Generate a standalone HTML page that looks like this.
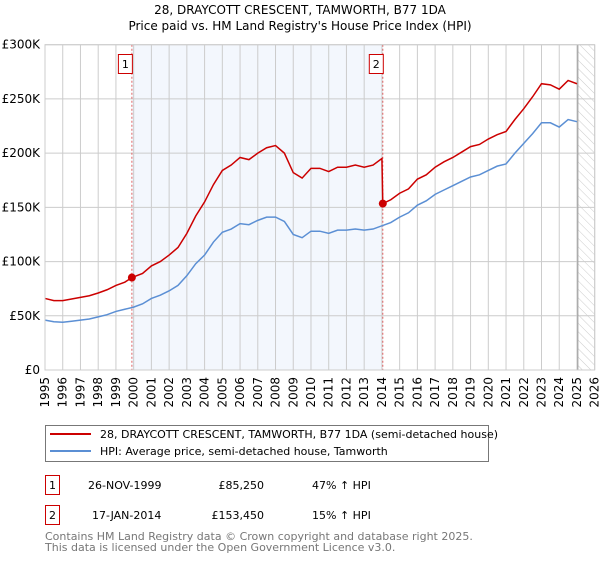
<!DOCTYPE html>
<html><head><meta charset="utf-8"><style>
body{margin:0;background:#fff;width:600px;height:560px;overflow:hidden;font-family:"DejaVu Sans","Liberation Sans",sans-serif}
svg text{font-family:"DejaVu Sans","Liberation Sans",sans-serif}
</style></head><body>
<svg id="c" width="600" height="560" xmlns="http://www.w3.org/2000/svg">
<defs><pattern id="hatch" width="6" height="6" patternUnits="userSpaceOnUse" patternTransform="rotate(-45)"><line x1="0" y1="0" x2="0" y2="6" stroke="#ccc" stroke-width="1"/></pattern></defs>
<text x="300" y="14" text-anchor="middle" font-size="12">28, DRAYCOTT CRESCENT, TAMWORTH, B77 1DA</text>
<text x="300" y="30" text-anchor="middle" font-size="12">Price paid vs. HM Land Registry's House Price Index (HPI)</text>
<g id="plot"></g>
<g>
<rect x="45.5" y="425.5" width="443" height="36" fill="#fff" stroke="#777"/>
<line x1="50" y1="434" x2="91" y2="434" stroke="#cc0000" stroke-width="2"/>
<text x="100" y="438" font-size="11">28, DRAYCOTT CRESCENT, TAMWORTH, B77 1DA (semi-detached house)</text>
<line x1="50" y1="451" x2="91" y2="451" stroke="#5b8fd4" stroke-width="2"/>
<text x="100" y="455" font-size="11">HPI: Average price, semi-detached house, Tamworth</text>
</g>
<g font-size="11">
<rect x="45.5" y="475.5" width="14" height="19" fill="#fff" stroke="#cc0000"/>
<text x="52.5" y="489" text-anchor="middle">1</text>
<text x="88" y="489">26-NOV-1999</text><text x="264" y="489" text-anchor="end">£85,250</text><text x="312" y="489">47% ↑ HPI</text>
<rect x="45.5" y="505.5" width="14" height="19" fill="#fff" stroke="#cc0000"/>
<text x="52.5" y="519" text-anchor="middle">2</text>
<text x="92" y="519">17-JAN-2014</text><text x="264" y="519" text-anchor="end">£153,450</text><text x="312" y="519">15% ↑ HPI</text>
</g>
<text x="45" y="540" font-size="11" fill="#777">Contains HM Land Registry data © Crown copyright and database right 2025.</text>
<text x="45" y="551" font-size="11" fill="#777">This data is licensed under the Open Government Licence v3.0.</text>
</svg>
<script>
const years=[1995,1995.5,1996,1996.5,1997,1997.5,1998,1998.5,1999,1999.5,2000,2000.5,2001,2001.5,2002,2002.5,2003,2003.5,2004,2004.5,2005,2005.5,2006,2006.5,2007,2007.5,2008,2008.5,2009,2009.5,2010,2010.5,2011,2011.5,2012,2012.5,2013,2013.5,2014,2014.5,2015,2015.5,2016,2016.5,2017,2017.5,2018,2018.5,2019,2019.5,2020,2020.5,2021,2021.5,2022,2022.5,2023,2023.5,2024,2024.5,2025];
const hpiValues=[46,44.5,44,45,46,47,49,51,54,56,58,61,66,69,73,78,87,98,106,118,127,130,135,134,138,141,141,137,125,122,128,128,126,129,129,130,129,130,133,136,141,145,152,156,162,166,170,174,178,180,184,188,190,200,209,218,228,228,224,231,229];
const redYears=[1995,1995.5,1996,1996.5,1997,1997.5,1998,1998.5,1999,1999.5,1999.9,2000.5,2001,2001.5,2002,2002.5,2003,2003.5,2004,2004.5,2005,2005.5,2006,2006.5,2007,2007.5,2008,2008.5,2009,2009.5,2010,2010.5,2011,2011.5,2012,2012.5,2013,2013.5,2014.0,2014.05,2014.5,2015,2015.5,2016,2016.5,2017,2017.5,2018,2018.5,2019,2019.5,2020,2020.5,2021,2021.5,2022,2022.5,2023,2023.5,2024,2024.5,2025];
const redValues=[66,64,64,65.5,67,68.5,71,74,78,81,85.25,89,96,100,106,113,126,142,155,171,184,189,196,194,200,205,207,200,182,177,186,186,183,187,187,189,187,189,195,153.45,157,163,167,176,180,187,192,196,201,206,208,213,217,220,231,241,252,264,263,259,267,264];
const sales=[[1999.9,85.25,'1'],[2014.05,153.45,'2']];
const yTicks=[0,50,100,150,200,250,300];
const yTickLabels=['£0','£50K','£100K','£150K','£200K','£250K','£300K'];
const xTicks=[1995,1996,1997,1998,1999,2000,2001,2002,2003,2004,2005,2006,2007,2008,2009,2010,2011,2012,2013,2014,2015,2016,2017,2018,2019,2020,2021,2022,2023,2024,2025,2026];
const X0=45,X1=594.7,Y0=370,Y1=44.7;
const xs=v=>X0+(v-1995)/(2026-1995)*(X1-X0);
const ys=v=>Y0-v/300*(Y0-Y1);
const NS='http://www.w3.org/2000/svg';
const g=document.getElementById('plot');
function mk(t,a){const e=document.createElementNS(NS,t);for(const k in a)e.setAttribute(k,a[k]);g.appendChild(e);return e;}
let e;
e=mk('rect',{x:X0,y:Y1,width:X1-X0,height:Y0-Y1,fill:'#fff'});


e=mk('rect',{x:xs(sales[0][0]),y:Y1,width:xs(sales[1][0])-xs(sales[0][0]),height:Y0-Y1,fill:'#eef3fc',opacity:0.7});


e=mk('rect',{x:xs(2025.05),y:Y1,width:X1-xs(2025.05),height:Y0-Y1,fill:'url(#hatch)'});


xTicks.forEach(t=>{
 e=mk('line',{x1:xs(t),x2:xs(t),y1:Y1,y2:Y0,stroke:'#ccc','stroke-width':1});
 
 
 const x=xs(t)+4,y=Y0+7;
 e=mk('text',{x:x,y:y,'font-size':12,'text-anchor':'end',transform:`rotate(-90 ${x} ${y})`});
 e.textContent=t;
 
 
});
yTicks.forEach((t,i)=>{
 e=mk('line',{x1:X0,x2:X1,y1:ys(t),y2:ys(t),stroke:'#ccc','stroke-width':1});
 
 
 e=mk('text',{x:X0-5,y:ys(t)+4,'font-size':12,'text-anchor':'end'});
 e.textContent=yTickLabels[i];
 
 
});
e=mk('line',{x1:xs(2025.05),x2:xs(2025.05),y1:Y1,y2:Y0,stroke:'#999','stroke-width':1});


sales.forEach(s=>{
 e=mk('line',{x1:xs(s[0]),x2:xs(s[0]),y1:Y1,y2:Y0,stroke:'#e06060','stroke-width':1,'stroke-dasharray':'2,2'});
 
 
});
e=mk('polyline',{points:years.map((y,i)=>xs(y)+','+ys(hpiValues[i])).join(' '),fill:'none',stroke:'#5b8fd4','stroke-width':1.5});


e=mk('polyline',{points:redYears.map((y,i)=>xs(y)+','+ys(redValues[i])).join(' '),fill:'none',stroke:'#cc0000','stroke-width':1.5});


sales.forEach(s=>{
 e=mk('circle',{cx:xs(s[0]),cy:ys(s[1]),r:4,fill:'#cc0000'});
 
 
 e=mk('rect',{x:xs(s[0])-13.5,y:54.5,width:14,height:19,fill:'#fff',stroke:'#cc0000'});
 
 
 e=mk('text',{x:xs(s[0])-6.5,y:68,'font-size':11,'text-anchor':'middle'});
 e.textContent=s[2];
 
 
});
e=mk('rect',{x:X0,y:Y1,width:X1-X0,height:Y0-Y1,fill:'none',stroke:'#ccc'});


</script>
</body></html>
